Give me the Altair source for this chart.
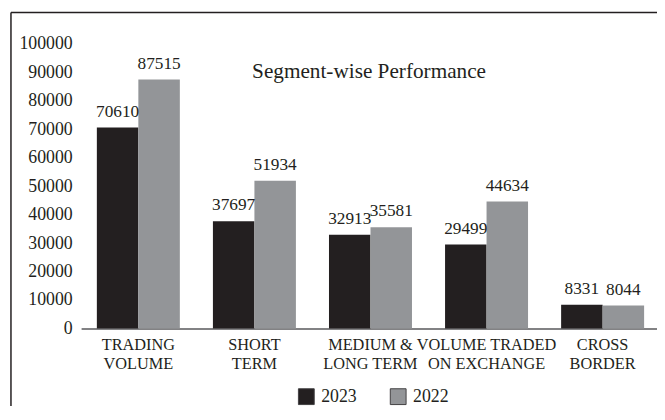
import altair as alt
import pandas as pd

categories = ["TRADING|VOLUME", "SHORT|TERM", "MEDIUM &|LONG TERM", "VOLUME TRADED|ON EXCHANGE", "CROSS|BORDER"]
values_2023 = [70610, 37697, 32913, 29499, 8331]
values_2022 = [87515, 51934, 35581, 44634, 8044]
years = ["2023", "2022"]
y_ticks = list(range(0, 100001, 10000))

rows = []
for c, a, b in zip(categories, values_2023, values_2022):
    rows.append({"segment": c, "year": "2023", "value": a})
    rows.append({"segment": c, "year": "2022", "value": b})
df = pd.DataFrame(rows)

FONT = "Liberation Serif"
DARK = "#231f20"
GREY = "#939598"

x_scale = alt.Scale(paddingInner=0.285, paddingOuter=0.1234, align=0.55)
y_scale = alt.Scale(domain=[0, 100000], nice=False)

x_enc = alt.X("segment:N", sort=categories, title=None, scale=x_scale,
              axis=alt.Axis(labelExpr="split(datum.label, '|')", labelAngle=0, ticks=False,
                            domain=True, domainColor="#58595b", domainWidth=1.5,
                            labelPadding=8, labelFontSize=16.5, labelLineHeight=19,
                            labelOverlap=False,
                            labelFont=FONT, labelColor=DARK))
y_enc = alt.Y("value:Q", title=None, scale=y_scale,
              axis=alt.Axis(values=y_ticks, format="d", domain=False, ticks=False, grid=False,
                            labelOverlap=False, labelFlush=False,
                            labelPadding=9, labelFontSize=18, labelFont=FONT, labelColor=DARK))
xoff = alt.XOffset("year:N", sort=years, scale=alt.Scale(paddingInner=0, paddingOuter=0))

base = alt.Chart(df)

bars = base.mark_bar().encode(
    color=alt.Color("year:N", sort=years,
                    scale=alt.Scale(domain=years, range=[DARK, GREY]),
                    legend=alt.Legend(title=None, orient="none", direction="horizontal",
                                      legendX=219, legendY=348,
                                      symbolType="square", symbolSize=256,
                                      symbolStrokeColor="#414042", symbolStrokeWidth=1,
                                      labelFontSize=18, labelFont=FONT, labelColor=DARK,
                                      columnPadding=32, labelOffset=6)),
)

labels = base.mark_text(baseline="bottom", dy=-7, fontSize=17.5, font=FONT, color=DARK).encode(
    text=alt.Text("value:Q", format="d"),
)

data_layer = alt.layer(bars, labels).encode(x=x_enc, y=y_enc, xOffset=xoff)

border_left = alt.Chart(pd.DataFrame({"k": [0]})).mark_rule(color=DARK, strokeWidth=1.5).encode(
    x=alt.value(-71), y=alt.value(-32), y2=alt.value(400))
border_top = alt.Chart(pd.DataFrame({"k": [0]})).mark_rule(color=DARK, strokeWidth=1.5).encode(
    x=alt.value(-71), x2=alt.value(700), y=alt.value(-32))

chart = alt.layer(data_layer, border_left, border_top).properties(
    width=583, height=288,
    title=alt.TitleParams("Segment-wise Performance", anchor="middle", offset=-72,
                          fontSize=21.5, font=FONT, fontWeight="normal", color=DARK),
    autosize=alt.AutoSizeParams(type="none"),
    padding={"left": 74, "top": 34, "right": 0, "bottom": 76},
).configure_view(stroke=None)

chart.save("out.html", embed_options={"renderer": "svg", "actions": False})
